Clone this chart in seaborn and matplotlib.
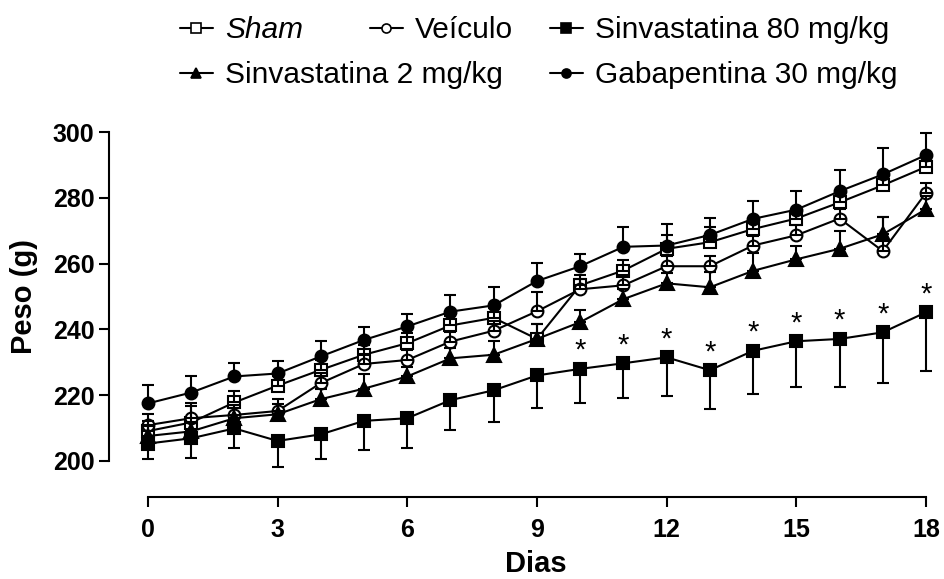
import numpy as np
import pandas as pd
import matplotlib
matplotlib.use("Agg")
import matplotlib.pyplot as plt
from matplotlib.lines import Line2D
import seaborn as sns

# ---------------- data ----------------
dias = list(range(19))

sham = [209.1, 211.7, 217.8, 222.9, 227.7, 232.3, 235.8, 241.2, 243.5, 237.1,
        253.4, 257.9, 264.5, 266.5, 270.5, 273.7, 278.6, 283.8, 289.4]
sham_err = [3.0, 5.0, 3.5, 3.0, 3.0, 3.0, 3.0, 3.0, 3.0, 4.6,
            3.0, 3.3, 4.3, 4.5, 3.0, 3.0, 3.0, 3.0, 3.0]

veiculo = [210.9, 213.0, 214.0, 215.2, 223.7, 229.5, 230.7, 236.3, 239.6, 245.5,
           252.2, 253.4, 259.2, 259.2, 265.5, 268.6, 273.7, 263.8, 281.5]
veiculo_err = [3.3, 4.5, 3.0, 3.6, 3.0, 3.0, 3.0, 3.0, 3.0, 6.0,
               3.0, 3.0, 3.0, 3.0, 3.0, 3.0, 3.0, 10.4, 3.0]

sinva80 = [205.3, 206.9, 209.9, 206.1, 208.1, 212.2, 213.0, 218.5, 221.5, 226.0,
           228.0, 229.7, 231.5, 227.6, 233.5, 236.4, 237.1, 239.1, 245.2]
sinva80_err = [4.8, 5.9, 5.8, 7.8, 7.4, 8.8, 8.9, 9.1, 9.5, 10.0,
               10.5, 10.7, 11.7, 11.8, 13.2, 13.8, 14.5, 15.5, 17.8]

sinva2 = [207.6, 209.0, 213.0, 214.2, 218.8, 222.0, 225.7, 231.2, 232.3, 237.1,
          242.2, 249.2, 254.0, 252.8, 257.8, 261.3, 264.5, 268.9, 276.5]
sinva2_err = [3.0, 3.0, 3.0, 3.0, 3.0, 4.4, 3.0, 3.0, 4.3, 4.5,
              3.8, 3.0, 3.0, 4.5, 5.3, 4.2, 5.4, 5.3, 4.0]

gaba = [217.5, 220.8, 225.7, 226.6, 231.8, 236.8, 240.9, 245.4, 247.3, 254.7,
        259.2, 265.1, 265.5, 268.7, 273.6, 276.4, 282.0, 287.1, 293.0]
gaba_err = [5.6, 5.1, 4.0, 3.7, 4.6, 4.0, 3.8, 5.2, 5.5, 5.5,
            3.7, 6.0, 6.4, 5.1, 5.5, 5.6, 6.6, 7.9, 6.8]

star_days = [10, 11, 12, 13, 14, 15, 16, 17, 18]

x_ticks = [0, 3, 6, 9, 12, 15, 18]
y_ticks = [200, 220, 240, 260, 280, 300]

# ---------------- style ----------------
sns.set_theme(style="ticks")
plt.rcParams['font.family'] = ['Liberation Sans', 'DejaVu Sans']
plt.rcParams.update({"text.color": "black", "axes.labelcolor": "black",
                     "xtick.color": "black", "ytick.color": "black",
                     "axes.edgecolor": "black"})

fig = plt.figure(figsize=(9.44, 5.79), dpi=100)
AX_L, AX_R, AX_T, AX_B = 109, 926, 132, 497
ax = fig.add_axes([AX_L/944, 1 - AX_B/579, (AX_R - AX_L)/944, (AX_B - AX_T)/579])

series = [
    ("Sham", sham, sham_err, "s", "white", +1),
    ("Veículo", veiculo, veiculo_err, "o", "white", +1),
    ("Sinvastatina 80 mg/kg", sinva80, sinva80_err, "s", "black", -1),
    ("Sinvastatina 2 mg/kg", sinva2, sinva2_err, "^", "black", +1),
    ("Gabapentina 30 mg/kg", gaba, gaba_err, "o", "black", +1),
]

handles = {}
for name, vals, errs, mk, fc, direction in series:
    df = pd.DataFrame({"Dias": dias, "Peso": vals})
    sns.lineplot(data=df, x="Dias", y="Peso", ax=ax, color="black", lw=1.5,
                 marker=mk, markersize=8.5 if mk != "^" else 9.5,
                 markerfacecolor=fc, markeredgecolor="black", markeredgewidth=1.5,
                 clip_on=False, zorder=3, legend=False)
    errs = np.asarray(errs)
    if direction > 0:
        yerr = [np.zeros_like(errs), errs]
    else:
        yerr = [errs, np.zeros_like(errs)]
    ax.errorbar(dias, vals, yerr=yerr, fmt="none", ecolor="black", elinewidth=1.5,
                capsize=4.5, capthick=1.5, clip_on=False, zorder=4)
    handles[name] = Line2D([], [], color="black", lw=1.5, marker=mk,
                           markersize=6.5, markerfacecolor=fc,
                           markeredgecolor="black", markeredgewidth=1.2)

for d in star_days:
    ax.annotate("*", (d, sinva80[d]), xytext=(0, 13), textcoords="offset points",
                ha="center", va="center", fontsize=21,
                color="black", annotation_clip=False)

# axes
ax.set_xlim(-0.9, 18)
ax.set_ylim(200 - (AX_B - 461) / 3.29, 300)
ax.spines["top"].set_visible(False)
ax.spines["right"].set_visible(False)
ax.spines["left"].set_bounds(200, 300)
ax.spines["bottom"].set_bounds(0, 18)
for s in ("left", "bottom"):
    ax.spines[s].set_linewidth(1.5)
    ax.spines[s].set_color("black")
ax.set_xticks(x_ticks)
ax.set_yticks(y_ticks)
ax.tick_params(axis="both", width=1.5, length=7, color="black",
               labelcolor="black", labelsize=18)
ax.tick_params(axis="y", pad=3.5)
ax.tick_params(axis="x", pad=8)
for lab in ax.get_xticklabels() + ax.get_yticklabels():
    lab.set_fontweight("bold")
ax.set_xlabel("Dias", fontsize=21, fontweight="bold", color="black")
ax.set_ylabel("Peso (g)", fontsize=21, fontweight="bold", color="black")
W, H = AX_R - AX_L, AX_B - AX_T
ax.xaxis.set_label_coords((536 - AX_L) / W, -(550 - AX_B) / H)
ax.yaxis.set_label_coords(-(AX_L - 38) / W, (AX_B - 296) / H)

# legend entries placed individually
legend_pos = [
    ("Sham", 180, 30, True),
    ("Veículo", 370, 30, False),
    ("Sinvastatina 80 mg/kg", 550, 30, False),
    ("Sinvastatina 2 mg/kg", 180, 75, False),
    ("Gabapentina 30 mg/kg", 550, 75, False),
]
for name, px, py, italic in legend_pos:
    prop = {"size": 21.5, "family": ["Liberation Sans", "DejaVu Sans"]}
    if italic:
        prop["style"] = "italic"
    leg = fig.legend([handles[name]], [name], loc="center left",
                     bbox_to_anchor=(px / 944, 1 - py / 579), frameon=False,
                     prop=prop, handlelength=1.1, handletextpad=0.4,
                     borderpad=0, borderaxespad=0)
    for t in leg.get_texts():
        t.set_color("black")

fig.savefig("out.png", dpi=100)
